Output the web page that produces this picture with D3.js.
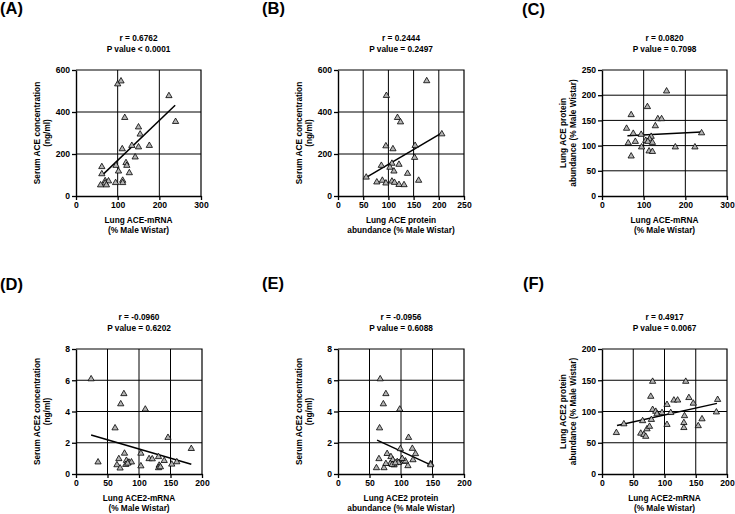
<!DOCTYPE html>
<html><head><meta charset="utf-8">
<script src="https://cdn.jsdelivr.net/npm/d3@7"></script>
<style>
body{margin:0;background:#fff;}
svg{display:block;}
text{font-family:"Liberation Sans",Arial,sans-serif;font-weight:bold;fill:#000;}
</style></head><body>
<script>
// ---------- DATA ----------
const aX = [100,108,223,239,117,150,154,134,150,176,111,142,120,122,96,102,128,62,62,112,112,95,70,78,70,59,73];
const aY = [533,547,477,354,373,328,294,240,233,240,224,185,158,145,145,118,110,139,105,74,63,63,72,71,61,52,52];
const aFitX = [65,238], aFitY = [103,432];
const aXTicks = [0,100,200,300], aYTicks = [0,200,400,600];
const aTitle = ["r = 0.6762","P value < 0.0001"];
const aXLabel = ["Lung ACE-mRNA","(% Male Wistar)"];
const aYLabel = ["Serum ACE concentration","(ng/ml)"];

const bX = [176,96,118,124,95,109,153,206,152,86,107,121,103,111,138,56,77,88,95,107,112,121,131,160];
const bY = [548,478,373,352,238,224,240,295,183,145,155,150,136,118,107,89,66,74,61,70,64,54,53,74];
const bFitX = [57,207], bFitY = [90,302];
const bXTicks = [0,50,100,150,200,250], bYTicks = [0,200,400,600];
const bTitle = ["r = 0.2444","P value = 0.2497"];
const bXLabel = ["Lung ACE protein","abundance (% Male Wistar)"];
const bYLabel = ["Serum ACE concentration","(ng/ml)"];

const cX = [155,109,70,134,143,128,59,75,94,118,239,80,63,105,114,110,121,95,176,223,113,121,70];
const cY = [208,177,161,153,153,139,134,124,122,118,125,108,105,110,113,108,106,97,97,97,89,88,79];
const cFitX = [61,239], cFitY = [119.5,127];
const cXTicks = [0,100,200,300], cYTicks = [0,50,100,150,200,250];
const cTitle = ["r = 0.0820","P value = 0.7098"];
const cXLabel = ["Lung ACE-mRNA","(% Male Wistar)"];
const cYLabel = ["Lung ACE protein","abundance (% Male Wistar)"];

const dX = [24,76,71,110,62,146,183,35,77,103,68,65,70,80,84,88,79,116,121,131,140,103,132,131,152,160,82,134];
const dY = [6.08,5.13,4.48,4.14,2.94,2.33,1.62,0.76,1.32,1.32,0.97,0.58,0.37,0.86,0.75,0.76,0.6,0.97,0.96,1.1,0.85,0.51,0.55,0.39,0.62,0.77,0.68,0.45];
const dFitX = [24,183], dFitY = [2.49,0.63];
const dXTicks = [0,50,100,150,200], dYTicks = [0,2,4,6,8];
const dTitle = ["r = -0.0960","P value = 0.6202"];
const dXLabel = ["Lung ACE2-mRNA","(% Male Wistar)"];
const dYLabel = ["Serum ACE2 concentration","(ng/ml)"];

const eX = [67,76,72,98,66,112,99,118,123,78,65,84,87,94,83,101,104,119,111,61,73,76,89,147,147,96,107,86,91,102];
const eY = [6.08,5.13,4.48,4.14,2.94,2.33,1.61,1.63,1.29,1.3,0.97,1.1,0.9,0.78,0.66,0.9,0.8,0.9,0.52,0.39,0.39,0.66,0.57,0.66,0.58,0.72,0.82,0.6,0.7,0.98];
const eFitX = [62,148], eFitY = [2.17,0.57];
const eXTicks = [0,50,100,150,200], eYTicks = [0,2,4,6,8];
const eTitle = ["r = -0.0956","P value = 0.6088"];
const eXLabel = ["Lung ACE2 protein","abundance (% Male Wistar)"];
const eYLabel = ["Serum ACE2 concentration","(ng/ml)"];

const fX = [23,35,65,62,67,70,72,76,79,81,78,81,86,88,96,104,104,110,115,121,134,139,146,132,131,131,160,154,185,183];
const fY = [66,80,85,65,63,60,72,76,87,148,124,103,100,96,98,111,79,98,118,118,148,122,113,93,82,74,88,77,119,99];
const fFitX = [24,184], fFitY = [77.5,113];
const fXTicks = [0,50,100,150,200], fYTicks = [0,50,100,150,200];
const fTitle = ["r = 0.4917","P value = 0.0067"];
const fXLabel = ["Lung ACE2-mRNA","(% Male Wistar)"];
const fYLabel = ["Lung ACE2 protein","abundance (% Male Wistar)"];

const panelLabels = ["(A)","(B)","(C)","(D)","(E)","(F)"];

// ---------- LAYOUT ----------
const layout = [
  {l:76,  r:201, t:70,  b:196, lx:0,   ly:14},
  {l:338, r:464, t:70,  b:196, lx:262, ly:14},
  {l:602, r:727, t:70,  b:196, lx:522, ly:15},
  {l:76,  r:202, t:349, b:474, lx:0,   ly:290},
  {l:338, r:464, t:349, b:474, lx:262, ly:289},
  {l:602, r:727, t:349, b:474, lx:523, ly:289}
];

const panels = [
  {xs:aX, ys:aY, fx:aFitX, fy:aFitY, xt:aXTicks, yt:aYTicks, title:aTitle, xl:aXLabel, yl:aYLabel},
  {xs:bX, ys:bY, fx:bFitX, fy:bFitY, xt:bXTicks, yt:bYTicks, title:bTitle, xl:bXLabel, yl:bYLabel},
  {xs:cX, ys:cY, fx:cFitX, fy:cFitY, xt:cXTicks, yt:cYTicks, title:cTitle, xl:cXLabel, yl:cYLabel},
  {xs:dX, ys:dY, fx:dFitX, fy:dFitY, xt:dXTicks, yt:dYTicks, title:dTitle, xl:dXLabel, yl:dYLabel},
  {xs:eX, ys:eY, fx:eFitX, fy:eFitY, xt:eXTicks, yt:eYTicks, title:eTitle, xl:eXLabel, yl:eYLabel},
  {xs:fX, ys:fY, fx:fFitX, fy:fFitY, xt:fXTicks, yt:fYTicks, title:fTitle, xl:fXLabel, yl:fYLabel}
];

const svg = d3.select("body").append("svg").attr("width",735).attr("height",514);
svg.append("rect").attr("width",735).attr("height",514).attr("fill","#fff");

const tri = d3.symbol().type(d3.symbolTriangle).size(17);

panels.forEach((p,i)=>{
  const L = layout[i];
  const g = svg.append("g");
  const x = d3.scaleLinear().domain(d3.extent(p.xt)).range([L.l,L.r]);
  const y = d3.scaleLinear().domain(d3.extent(p.yt)).range([L.b,L.t]);

  // panel label
  g.append("text").attr("x",L.lx).attr("y",L.ly).attr("font-size",16.5).text(panelLabels[i]);

  // grid
  g.selectAll(".gx").data(p.xt.slice(1,-1)).enter().append("line")
    .attr("x1",d=>x(d)).attr("x2",d=>x(d)).attr("y1",L.t).attr("y2",L.b)
    .attr("stroke","#000").attr("stroke-width",1);
  g.selectAll(".gy").data(p.yt.slice(1,-1)).enter().append("line")
    .attr("y1",d=>y(d)).attr("y2",d=>y(d)).attr("x1",L.l).attr("x2",L.r)
    .attr("stroke","#000").attr("stroke-width",1);
  // frame top/right
  g.append("path").attr("d",`M${L.l},${L.t}H${L.r}V${L.b}`).attr("fill","none").attr("stroke","#000").attr("stroke-width",1.2);

  // axes
  const ax = g.append("g").attr("transform",`translate(0,${L.b})`)
    .call(d3.axisBottom(x).tickValues(p.xt).tickSize(4).tickPadding(2).tickSizeOuter(0).tickFormat(d3.format("d")));
  const ay = g.append("g").attr("transform",`translate(${L.l},0)`)
    .call(d3.axisLeft(y).tickValues(p.yt).tickSize(4).tickPadding(2).tickSizeOuter(0).tickFormat(d3.format("d")));
  [ax,ay].forEach(a=>{
    a.select(".domain").attr("stroke","#000").attr("stroke-width",1.4);
    a.selectAll(".tick line").attr("stroke","#000").attr("stroke-width",1.3);
    a.selectAll("text").attr("font-size",8.6).attr("font-family","Liberation Sans, Arial, sans-serif").attr("font-weight","bold").attr("fill","#000");
  });

  // regression line
  g.append("line").attr("x1",x(p.fx[0])).attr("y1",y(p.fy[0])).attr("x2",x(p.fx[1])).attr("y2",y(p.fy[1]))
    .attr("stroke","#000").attr("stroke-width",1.5);

  // points
  g.selectAll(".pt").data(p.xs.map((v,k)=>[v,p.ys[k]])).enter().append("path")
    .attr("d",tri).attr("transform",d=>`translate(${x(d[0])},${y(d[1])})`)
    .attr("fill","#b3b3b3").attr("stroke","#000").attr("stroke-width",0.8);

  // title
  const cx = (L.l+L.r)/2;
  g.append("text").attr("x",cx).attr("y",L.t-29).attr("text-anchor","middle").attr("font-size",8.3).text(p.title[0]);
  g.append("text").attr("x",cx).attr("y",L.t-18).attr("text-anchor","middle").attr("font-size",8.3).text(p.title[1]);

  // x label
  g.append("text").attr("x",cx).attr("y",L.b+27).attr("text-anchor","middle").attr("font-size",8.3).text(p.xl[0]);
  g.append("text").attr("x",cx).attr("y",L.b+37).attr("text-anchor","middle").attr("font-size",8.3).text(p.xl[1]);

  // y label
  const cy = (L.t+L.b)/2;
  g.append("text").attr("transform",`translate(${L.l-36},${cy}) rotate(-90)`).attr("text-anchor","middle").attr("font-size",8.3).text(p.yl[0]);
  g.append("text").attr("transform",`translate(${L.l-26},${cy}) rotate(-90)`).attr("text-anchor","middle").attr("font-size",8.3).text(p.yl[1]);
});
</script>
</body></html>
